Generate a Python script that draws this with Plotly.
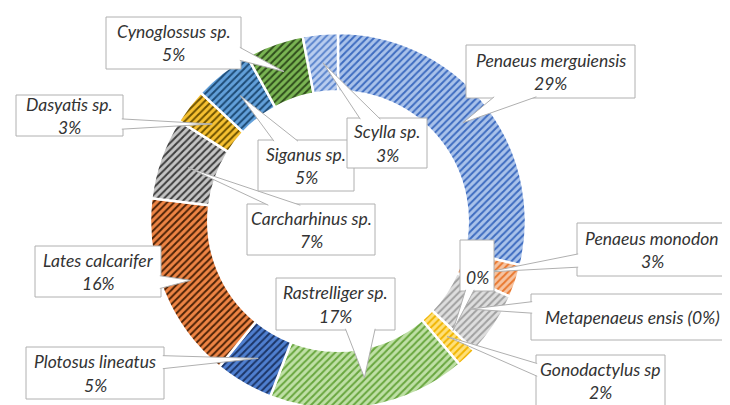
import math
import plotly.graph_objects as go

# ---------------- data ----------------
slice_ids = ["Penaeus merguiensis", "Penaeus monodon", "Metapenaeus ensis", "zero",
             "Gonodactylus sp", "Rastrelliger sp.", "Plotosus lineatus", "Lates calcarifer",
             "Carcharhinus sp.", "Dasyatis sp.", "Siganus sp.", "Cynoglossus sp.", "Scylla sp."]
values = [28.7, 2.8, 5.5, 0, 1.7, 17, 5, 16, 7, 3, 5, 5, 3]
label_names = ["Penaeus merguiensis", "Penaeus monodon", "Metapenaeus ensis (0%)", "",
               "Gonodactylus sp", "Rastrelliger sp.", "Plotosus lineatus", "Lates calcarifer",
               "Carcharhinus sp.", "Dasyatis sp.", "Siganus sp.", "Cynoglossus sp.", "Scylla sp."]
label_pcts = ["29%", "3%", "", "0%", "2%", "17%", "5%", "16%", "7%", "3%", "5%", "5%", "3%"]

# ---------------- styles ----------------
bg_colors = ["#a9c2ea", "#f6c3a0", "#dedede", "#dedede", "#ffe07a", "#bfe0a6", "#4f7fd0",
             "#ee8444", "#c4c4c4", "#f7c131", "#62a0da", "#7ab553", "#b9cdef"]
fg_colors = ["#3e6cc0", "#e9782f", "#a0a0a0", "#a0a0a0", "#f0b400", "#68a63e", "#1c3566",
             "#4d2206", "#3d3d3d", "#6e5200", "#1d4a74", "#2f4d1c", "#5b84cc"]

W, H = 730, 405
CX, CY, R, HOLE = 330, 213, 188, 0.69

# label boxes in pixels: (x0, x1, y0, y1)
boxes = [
    (458, 627, 37, 90),
    (569, 719, 215, 268),
    (523, 725, 286, 332),
    (452, 486, 232, 283),
    (528, 657, 347, 398),
    (268, 387, 270, 322),
    (18, 156, 339, 391),
    (27, 153, 238, 289),
    (239, 367, 196, 247),
    (8, 115, 87, 128),
    (250, 346, 132, 183),
    (98, 233, 9, 61),
    (339, 419, 110, 160),
]

FONT = dict(family="Lato, 'Open Sans', sans-serif", size=17.5, color="#333333", style="italic")
BORDER = "#b0b0b0"

fig = go.Figure()
fig.add_trace(go.Pie(
    labels=slice_ids, values=values, sort=False, direction="clockwise", rotation=0,
    hole=HOLE, textinfo="none", hoverinfo="label+percent", showlegend=False,
    marker=dict(colors=bg_colors, line=dict(color="white", width=2.5),
                pattern=dict(shape="/", fgcolor=fg_colors, bgcolor=bg_colors,
                             size=5, solidity=0.4, fillmode="replace")),
    domain=dict(x=[(CX - R) / W, (CX + R) / W], y=[1 - (CY + R) / H, 1 - (CY - R) / H]),
))

def px2paper(x, y):
    return x / W, 1 - y / H

total = sum(values)
shapes, annotations = [], []
cum = 0.0
r_mid = R * (1 + HOLE) / 2
for i, v in enumerate(values):
    mid = (cum + v / 2) / total * 2 * math.pi
    cum += v
    tx = CX + r_mid * math.sin(mid)
    ty = CY - r_mid * math.cos(mid)
    x0, x1, y0, y1 = boxes[i]
    w, h = x1 - x0, y1 - y0
    bcx, bcy = (x0 + x1) / 2, (y0 + y1) / 2
    dx, dy = tx - bcx, ty - bcy
    if abs(dx) / w > abs(dy) / h:
        fr = (7 / 12, 10 / 12) if dy > 0 else (2 / 12, 5 / 12)
        ex = x1 - 1.2 if dx > 0 else x0 + 1.2
        p1, p2 = (ex, y0 + h * fr[0]), (ex, y0 + h * fr[1])
    else:
        fr = (7 / 12, 10 / 12) if dx > 0 else (2 / 12, 5 / 12)
        ey = y1 - 1.2 if dy > 0 else y0 + 1.2
        p1, p2 = (x0 + w * fr[0], ey), (x0 + w * fr[1], ey)
    # box
    bx0, by1 = px2paper(x0, y0)
    bx1, by0 = px2paper(x1, y1)
    shapes.append(dict(type="rect", xref="paper", yref="paper", x0=bx0, x1=bx1, y0=by0, y1=by1,
                       fillcolor="white", line=dict(color=BORDER, width=1), layer="above"))
    # wedge
    a = px2paper(*p1); t = px2paper(tx, ty); b = px2paper(*p2)
    path = f"M {a[0]},{a[1]} L {t[0]},{t[1]} L {b[0]},{b[1]}"
    shapes.append(dict(type="path", xref="paper", yref="paper", path=path,
                       fillcolor="white", line=dict(color=BORDER, width=1), layer="above"))
    # text
    lines = [s for s in (label_names[i], label_pcts[i]) if s]
    if len(lines) == 2:
        ys = [bcy - 11.5, bcy + 12]
    else:
        ys = [bcy + (12 if label_names[i] == "" else 0)]
    for s, yy in zip(lines, ys):
        xx, yp = px2paper(bcx, yy)
        annotations.append(dict(text=s, x=xx, y=yp, xref="paper", yref="paper",
                                xanchor="center", yanchor="middle", showarrow=False, font=FONT))

fig.update_layout(
    width=W, height=H, margin=dict(l=0, r=0, t=0, b=0),
    paper_bgcolor="white", plot_bgcolor="white",
    shapes=shapes, annotations=annotations,
)
fig.write_html("out.html")
